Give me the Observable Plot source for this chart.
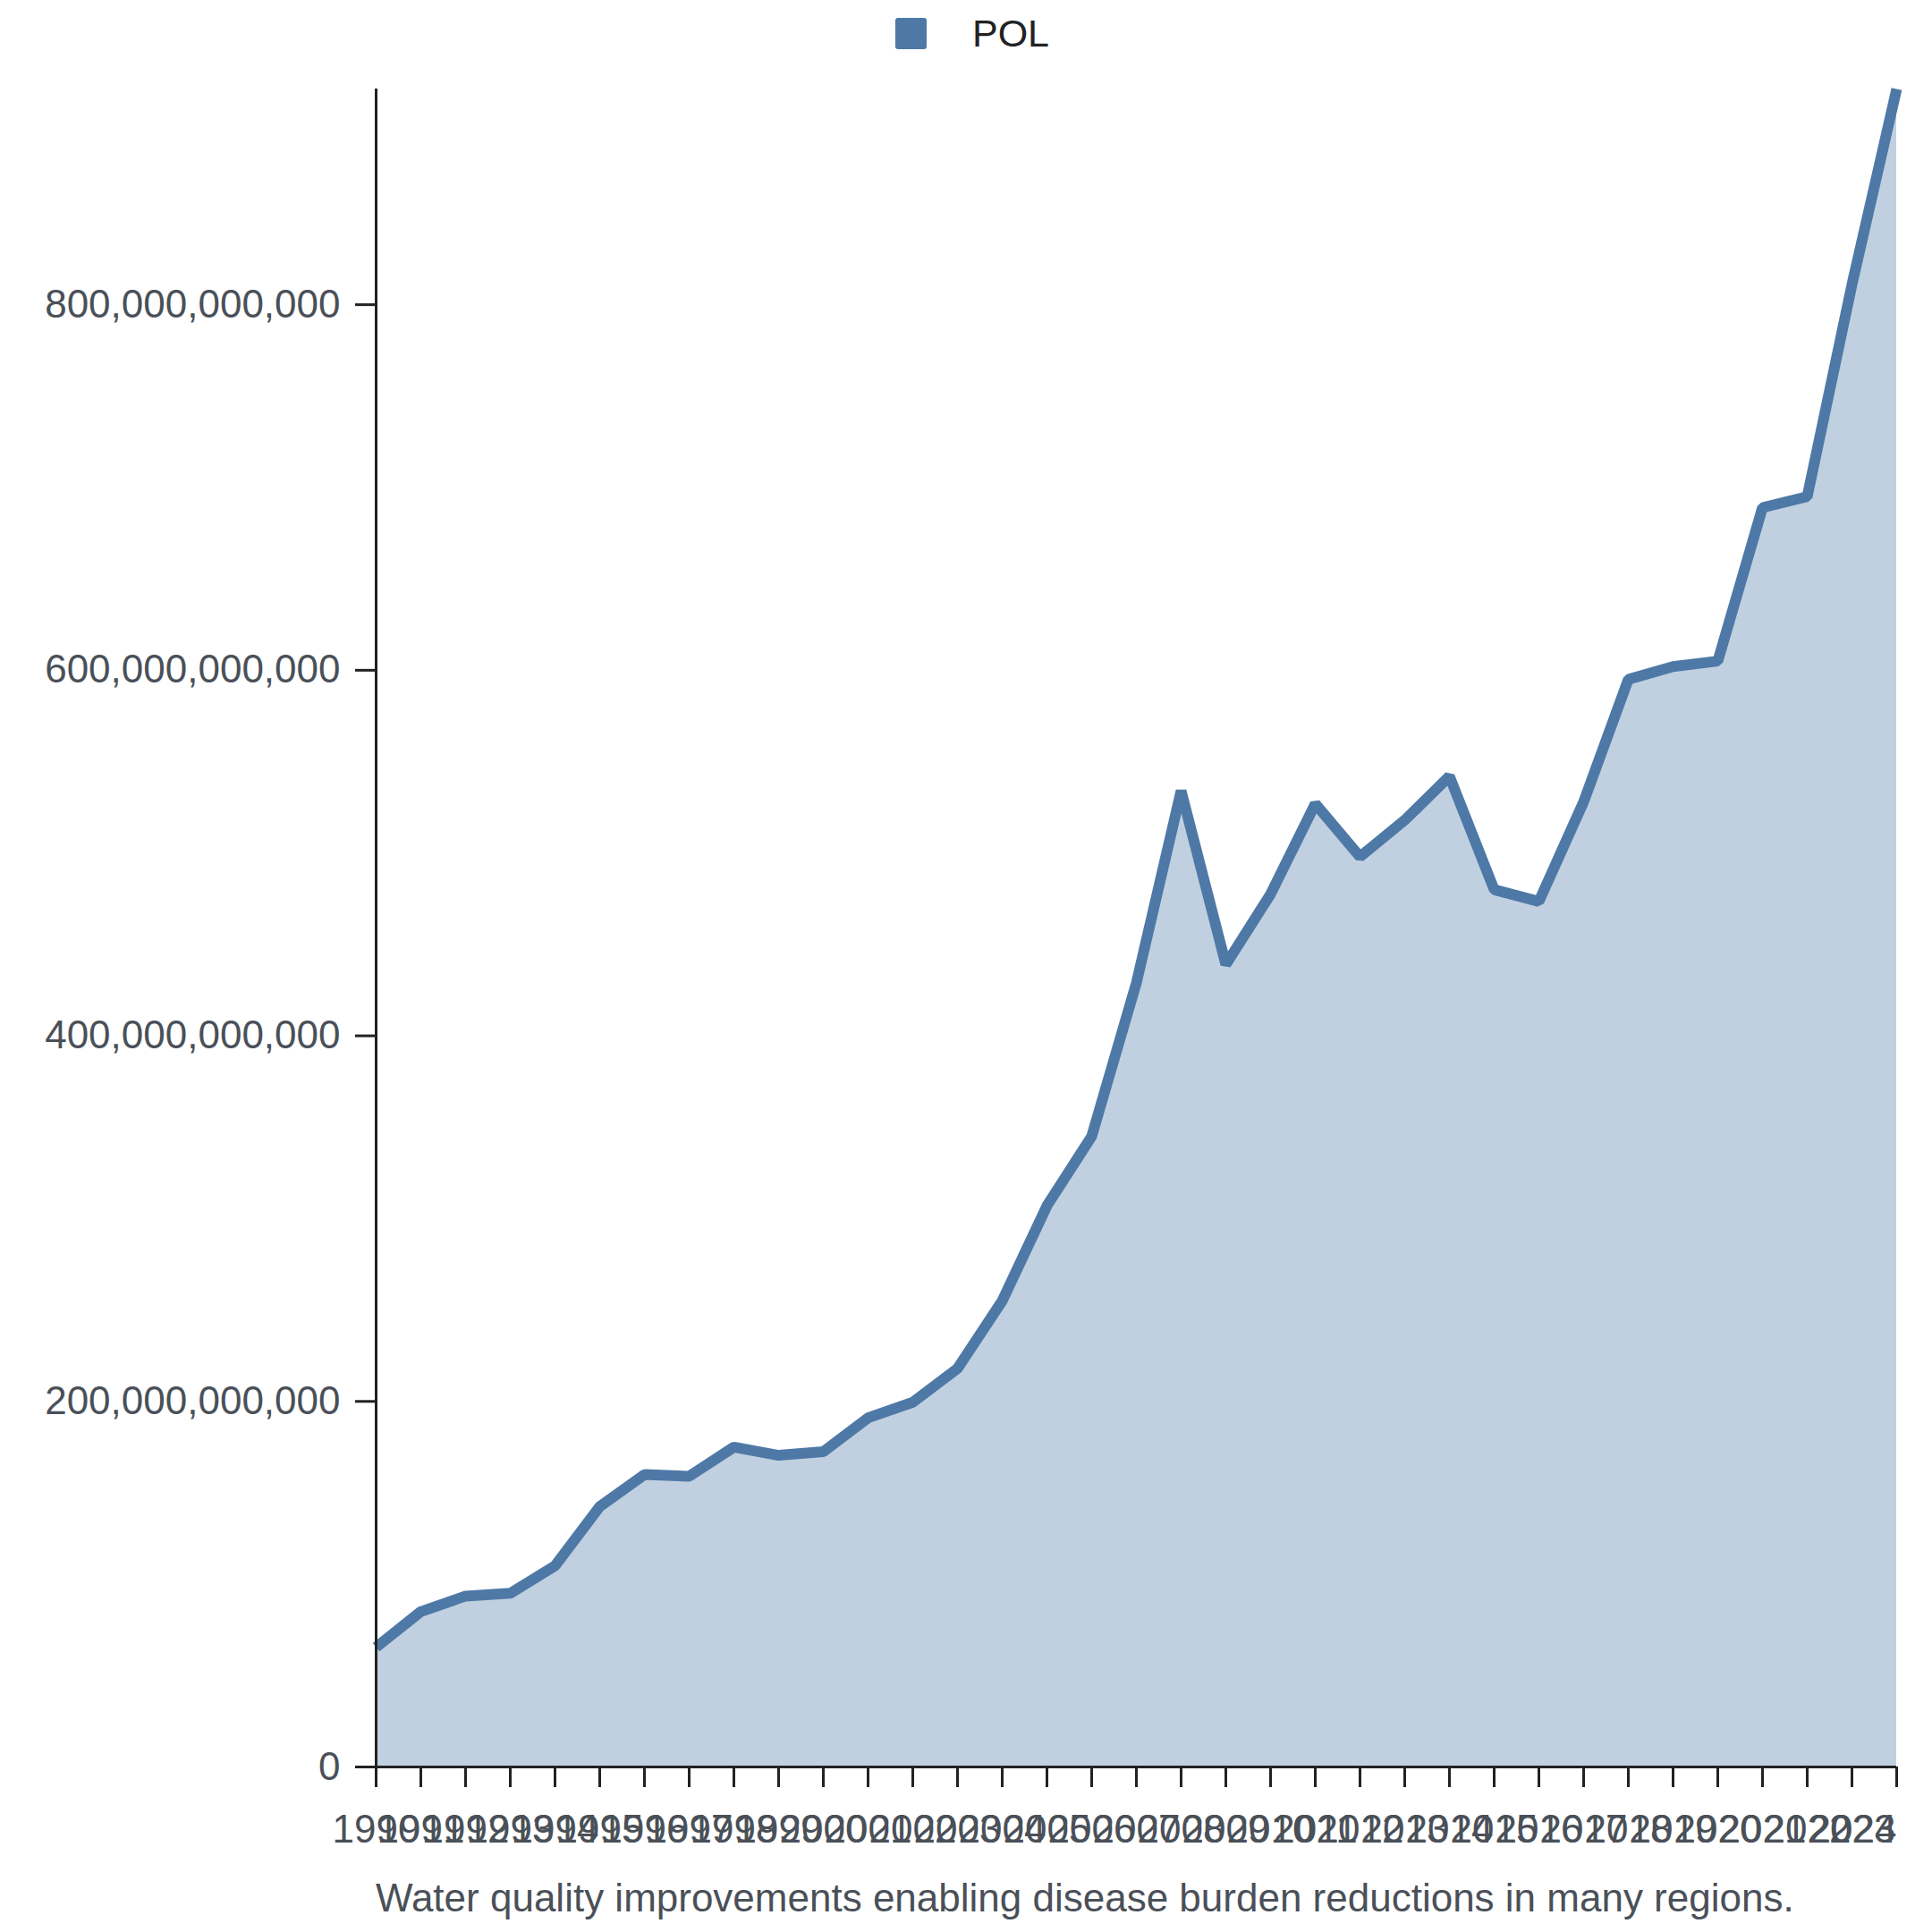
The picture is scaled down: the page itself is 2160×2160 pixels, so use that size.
<!DOCTYPE html>
<html>
<head>
<meta charset="utf-8">
<script src="https://cdn.jsdelivr.net/npm/d3@7"></script>
<script src="https://cdn.jsdelivr.net/npm/@observablehq/plot@0.6"></script>
<style>
  html, body { margin: 0; padding: 0; background: #fff; }
  body { width: 2160px; font-family: "Liberation Sans", Arial, sans-serif; }
  #legend { height: 75px; display: flex; justify-content: center; align-items: center; gap: 51px; padding-left: 14px; box-sizing: border-box; }
  #legend .sw { width: 35px; height: 35px; border-radius: 3px; background: #4e79a7; }
  #legend .lb { font-size: 43px; color: #222; }
  #caption { margin-top: 12px; padding-left: 420px; font-size: 44px; color: #4a5058; }
  svg { display: block; }
</style>
</head>
<body>
<div id="legend"><div class="sw"></div><div class="lb">POL</div></div>
<div id="chart"></div>
<div id="caption">Water quality improvements enabling disease burden reductions in many regions.</div>
<script>
const seriesName = "POL";
const years = [1990,1991,1992,1993,1994,1995,1996,1997,1998,1999,2000,2001,2002,2003,2004,2005,2006,2007,2008,2009,2010,2011,2012,2013,2014,2015,2016,2017,2018,2019,2020,2021,2022,2023,2024];
const valuesBillions = [65.5,85,93.5,95,110,142.5,160,159,175,170.5,172.5,191,199.5,218,255,307,345,429,534,439,477.5,527,498,518,542,480,473.5,528,595,602,605,689,695,811,918];
const yTicks = [0, 200e9, 400e9, 600e9, 800e9];

const data = years.map((y, i) => ({year: y, value: valuesBillions[i] * 1e9, series: seriesName}));

const color = "#4e79a7";
const axisColor = "#222";
const labelColor = "#4a5058";
const fontSize = 44;

const chart = Plot.plot({
  width: 2160,
  height: 2010,
  marginTop: 24,
  marginBottom: 110,
  marginLeft: 420,
  marginRight: 40,
  style: {fontFamily: '"Liberation Sans", Arial, sans-serif', fontSize: fontSize + "px", background: "#fff"},
  x: {domain: [years[0], years[years.length - 1]]},
  y: {domain: [0, d3.max(data, d => d.value)]},
  marks: [
    Plot.areaY(data, {x: "year", y: "value", fill: color, fillOpacity: 0.35}),
    Plot.lineY(data, {x: "year", y: "value", stroke: color, strokeWidth: 12, strokeLinejoin: "miter", strokeLinecap: "butt"}),
    Plot.ruleY([0], {stroke: axisColor, strokeWidth: 3}),
    Plot.ruleX([years[0]], {stroke: axisColor, strokeWidth: 3}),
    Plot.axisX({ticks: years.slice(0, -1), tickFormat: d => String(d), tickSize: 23, tickPadding: 30, stroke: axisColor, strokeWidth: 3, fill: labelColor, fontSize, label: null}),
    Plot.axisX({ticks: years.slice(-1), tickFormat: d => String(d), tickSize: 23, tickPadding: 30, textAnchor: "end", stroke: axisColor, strokeWidth: 3, fill: labelColor, fontSize, label: null}),
    Plot.axisY({ticks: yTicks, tickFormat: d3.format(","), tickSize: 23, tickPadding: 17, stroke: axisColor, strokeWidth: 3, fill: labelColor, fontSize, label: null})
  ]
});
document.getElementById("chart").appendChild(chart);
</script>
</body>
</html>
